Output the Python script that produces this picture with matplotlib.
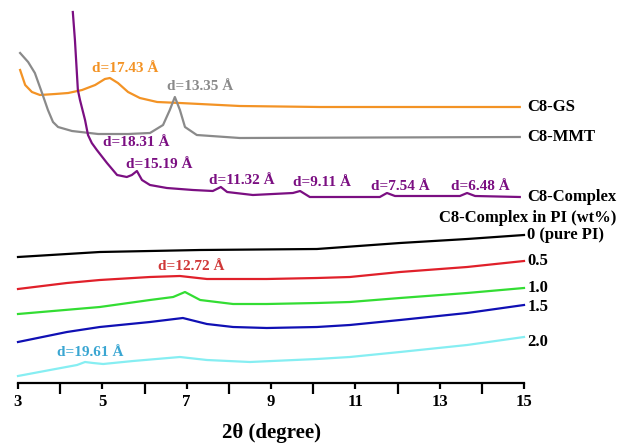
import matplotlib
matplotlib.use("Agg")
import matplotlib.pyplot as plt

plt.rcParams['font.family'] = ['Liberation Serif', 'DejaVu Serif']
plt.rcParams['font.weight'] = 'bold'

# 2theta (degree) / intensity (arbitrary, offset)
gs_x = [3.05, 3.17, 3.33, 3.52, 3.88, 4.19, 4.52, 4.83, 5.06, 5.18, 5.37, 5.61, 5.89,
        6.30, 6.84, 8.26, 10.16, 14.9]
gs_y = [313, 298, 291, 288, 289, 290, 293, 298, 304, 305, 300, 291, 285,
        281, 280, 277, 276, 276]

mmt_x = [3.05, 3.24, 3.40, 3.57, 3.71, 3.83, 3.95, 4.28, 4.90, 5.61, 6.13, 6.44, 6.60,
         6.72, 6.84, 6.96, 7.24, 8.26, 14.9]
mmt_y = [330, 321, 310, 290, 273, 261, 256, 252, 249, 249, 250, 258, 273,
         286, 273, 256, 248, 245, 246]

cx_x = [4.30, 4.35, 4.42, 4.47, 4.59, 4.66, 4.75, 4.87, 5.11, 5.35, 5.58, 5.70, 5.82,
        5.94, 6.13, 6.53, 7.15, 7.62, 7.81, 7.96, 8.57, 9.52, 9.69, 9.92, 11.58,
        11.75, 11.94, 13.48, 13.65, 13.84, 14.90]
cx_y = [371, 343, 293, 283, 263, 248, 240, 233, 220, 208, 206, 208, 212,
        203, 198, 195, 193, 192, 196, 191, 188, 190, 192, 186, 186,
        190, 187, 187, 190, 187, 186]

pi0_x = [3.0, 4.94, 7.32, 10.09, 12.06, 13.65, 15.0]
pi0_y = [126, 131, 133, 134, 140, 144, 148]

pi05_x = [3.0, 4.16, 4.94, 6.13, 6.84, 7.48, 8.90, 10.09, 10.87, 12.06, 13.65, 15.0]
pi05_y = [94, 100, 103, 106, 107, 104, 104, 105, 106, 111, 116, 122]

pi10_x = [3.0, 4.94, 6.13, 6.68, 6.96, 7.32, 8.10, 8.90, 10.09, 10.87, 12.06, 13.65, 15.0]
pi10_y = [69, 76, 83, 86, 91, 83, 79, 79, 80, 81, 85, 90, 95]

pi15_x = [3.0, 4.16, 4.94, 6.13, 6.91, 7.48, 8.10, 8.90, 10.09, 10.87, 12.06, 13.65, 15.0]
pi15_y = [41, 51, 56, 61, 65, 59, 56, 55, 56, 58, 63, 70, 78]

pi20_x = [3.0, 3.76, 4.40, 4.59, 4.78, 5.02, 5.73, 6.84, 7.48, 8.50, 10.09, 10.87, 12.06, 13.65, 15.0]
pi20_y = [7, 13, 18, 21, 20, 19, 22, 26, 23, 21, 24, 26, 31, 38, 46]

series = [
    (gs_x, gs_y, '#f39325', 'C8-GS'),
    (mmt_x, mmt_y, '#8a8a8a', 'C8-MMT'),
    (cx_x, cx_y, '#7b0f82', 'C8-Complex'),
    (pi0_x, pi0_y, '#000000', '0 (pure PI)'),
    (pi05_x, pi05_y, '#e0202a', '0.5'),
    (pi10_x, pi10_y, '#33dd33', '1.0'),
    (pi15_x, pi15_y, '#1010b4', '1.5'),
    (pi20_x, pi20_y, '#86eef2', '2.0'),
]
label_y = [276, 246, 186, 148, 122, 95, 76, 41]

peaks = [
    ('d=17.43 Å', 5.54, 315, '#f39325'),
    ('d=13.35 Å', 7.32, 297, '#8a8a8a'),
    ('d=18.31 Å', 5.80, 240, '#7b0f82'),
    ('d=15.19 Å', 6.34, 219, '#7b0f82'),
    ('d=11.32 Å', 8.31, 202, '#7b0f82'),
    ('d=9.11 Å', 10.21, 200, '#7b0f82'),
    ('d=7.54 Å', 12.08, 196, '#7b0f82'),
    ('d=6.48 Å', 13.96, 197, '#7b0f82'),
    ('d=12.72 Å', 7.10, 117, '#d03838'),
    ('d=19.61 Å', 4.71, 30, '#3aa6d2'),
]

fig = plt.figure(figsize=(6.21, 4.43), dpi=100)
ax = fig.add_axes([18 / 621, 1 - 383 / 443, 506 / 621, 383 / 443])

for (x, y, c, name), ly in zip(series, label_y):
    ax.plot(x, y, color=c, lw=1.6, clip_on=False, solid_joinstyle='round')
    ax.text(15.08, ly, name, color='black', fontsize=12, fontweight='bold',
            ha='left', va='center', clip_on=False)

ax.text(17.2, 165, 'C8-Complex in PI (wt%)', fontsize=12, fontweight='bold',
        ha='right', va='center', clip_on=False)

for txt, x, y, c in peaks:
    ax.text(x, y, txt, color=c, fontsize=11, fontweight='bold', ha='center', va='center')

ax.set_xlim(3, 15)
ax.set_ylim(0, 383)
for s in ['left', 'right', 'top']:
    ax.spines[s].set_visible(False)
ax.spines['bottom'].set_linewidth(1.6)
ax.set_yticks([])
ax.set_xticks([3, 5, 7, 9, 11, 13, 15])
ax.set_xticks([4, 6, 8, 10, 12, 14], minor=True)
ax.tick_params(axis='x', which='major', direction='out', length=4, width=1.6,
               labelsize=12, pad=4)
ax.tick_params(axis='x', which='minor', direction='out', length=8, width=1.6)
for lab in ax.get_xticklabels():
    lab.set_fontweight('bold')

fig.text(271 / 621, 1 - 433 / 443, '2θ (degree)', fontsize=15, fontweight='bold',
         ha='center', va='center')

fig.savefig('out.png', dpi=100)
